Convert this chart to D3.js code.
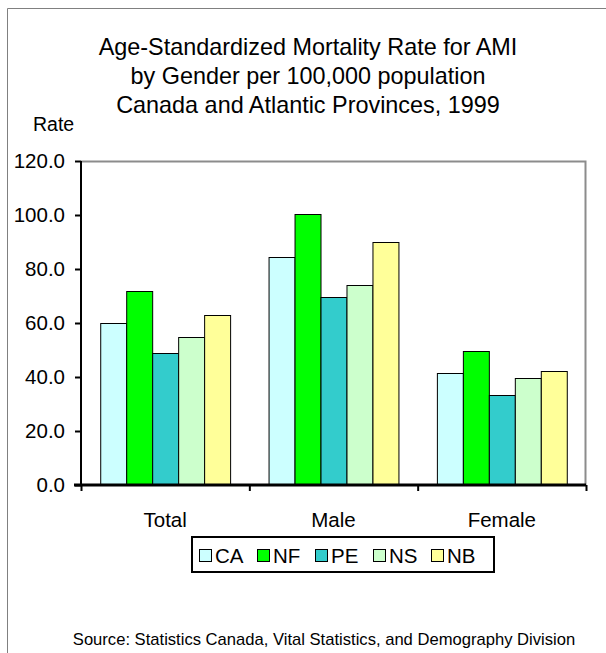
<!DOCTYPE html>
<html>
<head>
<meta charset="utf-8">
<script src="https://cdn.jsdelivr.net/npm/d3@7"></script>
<style>
  body { margin: 0; background: #fff; }
  svg text { font-family: "Liberation Sans", Arial, sans-serif; fill: #000; }
</style>
</head>
<body>
<div id="container"></div>
<script>
const categories = ["Total", "Male", "Female"]
const provinces = ["CA", "NF", "PE", "NS", "NB"]
const colours = ["#ccffff", "#00ff00", "#33cccc", "#ccffcc", "#ffff99"]

// rate per 100,000, one array per province, in category order
const CA = [60.0, 84.3, 41.4]
const NF = [71.7, 100.4, 49.7]
const PE = [49.0, 69.5, 33.3]
const NS = [54.9, 74.1, 39.5]
const NB = [62.8, 89.9, 42.1]
const seriesValues = [CA, NF, PE, NS, NB]

const yTicks = [0, 20, 40, 60, 80, 100, 120]
const titleLines = [
    "Age-Standardized Mortality Rate for AMI",
    "by Gender per 100,000 population",
    "Canada and Atlantic Provinces, 1999"
]
const sourceText = "Source:  Statistics Canada, Vital Statistics, and Demography Division"

const W = 606, H = 653
const margin = { top: 161, right: 20, bottom: 168, left: 81 }
    , width = W - margin.left - margin.right
    , height = H - margin.top - margin.bottom

const root = d3.select("#container").append("svg")
    .attr("width", W)
    .attr("height", H)

// outer chart frame
root.append("path")
    .attr("d", "M7.5," + H + "V8.5H" + W)
    .attr("fill", "none")
    .attr("stroke", "#808080")
    .attr("stroke-width", 1)

root.append("g")
    .selectAll("text")
    .data(titleLines)
    .join("text")
    .attr("x", 308)
    .attr("y", (d, i) => 55 + i * 29)
    .attr("text-anchor", "middle")
    .style("font-size", "23.4px")
    .text(d => d)

root.append("text")
    .attr("x", 33)
    .attr("y", 131)
    .style("font-size", "19.5px")
    .text("Rate")

root.append("text")
    .attr("x", 324)
    .attr("y", 645)
    .attr("text-anchor", "middle")
    .style("font-size", "16.6px")
    .text(sourceText)

const svg = root.append("g")
    .attr("transform", "translate(" + margin.left + "," + margin.top + ")")

const x0 = d3.scaleBand().domain(categories).range([0, width])
const x1 = d3.scaleBand().domain(provinces).range([0, x0.bandwidth()]).paddingOuter(0.74)
const y = d3.scaleLinear().domain([0, 120]).range([height, 0])

// plot area border (top and right, grey)
svg.append("path")
    .attr("d", "M0,0.5H" + (width - 0.5) + "V" + height)
    .attr("fill", "none")
    .attr("stroke", "#8c8c8c")
    .attr("stroke-width", 2)

const groups = svg.append("g")
    .selectAll("g")
    .data(categories)
    .join("g")
    .attr("transform", d => "translate(" + x0(d) + ",0)")

groups.selectAll("rect")
    .data((c, ci) => provinces.map((p, pi) => ({ p: p, v: seriesValues[pi][ci], col: colours[pi] })))
    .join("rect")
    .attr("x", d => x1(d.p) + 0.5)
    .attr("y", d => Math.round(y(d.v)) + 0.5)
    .attr("width", x1.bandwidth())
    .attr("height", d => height - Math.round(y(d.v)))
    .attr("fill", d => d.col)
    .attr("stroke", "#000")
    .attr("stroke-width", 1)

const yaxis = d3.axisLeft(y)
    .tickValues(yTicks)
    .tickFormat(d3.format(".1f"))
    .tickSize(6)
    .tickPadding(10)

const ya = svg.append("g").call(yaxis)
ya.select(".domain").attr("stroke-width", 2).attr("d", "M0,0V" + height)
ya.selectAll(".tick line").attr("stroke-width", 2)
ya.selectAll("text").style("font-size", "20.5px").attr("font-family", null)

// category boundaries on the x axis
const xTickPos = d3.range(categories.length + 1).map(i => i * x0.step())
const xaxis = d3.axisBottom(d3.scaleLinear().domain([0, width]).range([0, width]))
    .tickValues(xTickPos)
    .tickFormat("")
    .tickSize(6)
const xa = svg.append("g")
    .attr("transform", "translate(0," + height + ")")
    .call(xaxis)
xa.select(".domain").attr("stroke-width", 3).attr("d", "M-7,0H" + width)
xa.selectAll(".tick line").attr("stroke-width", 2)

svg.append("g")
    .selectAll("text")
    .data(categories)
    .join("text")
    .attr("x", d => x0(d) + x0.bandwidth() / 2)
    .attr("y", height + 42)
    .attr("text-anchor", "middle")
    .style("font-size", "20.5px")
    .text(d => d)

// legend
const legend = root.append("g").attr("transform", "translate(192,537)")
legend.append("rect")
    .attr("width", 302)
    .attr("height", 35)
    .attr("fill", "#fff")
    .attr("stroke", "#000")
    .attr("stroke-width", 2)

const item = legend.selectAll("g.item")
    .data(provinces)
    .join("g")
    .attr("class", "item")
    .attr("transform", (d, i) => "translate(" + (7 + i * 58) + ",0)")
item.append("rect")
    .attr("x", 0.5)
    .attr("y", 12.5)
    .attr("width", 12)
    .attr("height", 12)
    .attr("fill", (d, i) => colours[i])
    .attr("stroke", "#000")
item.append("text")
    .attr("x", 16)
    .attr("y", 25.5)
    .style("font-size", "20.5px")
    .text(d => d)
</script>
</body>
</html>
